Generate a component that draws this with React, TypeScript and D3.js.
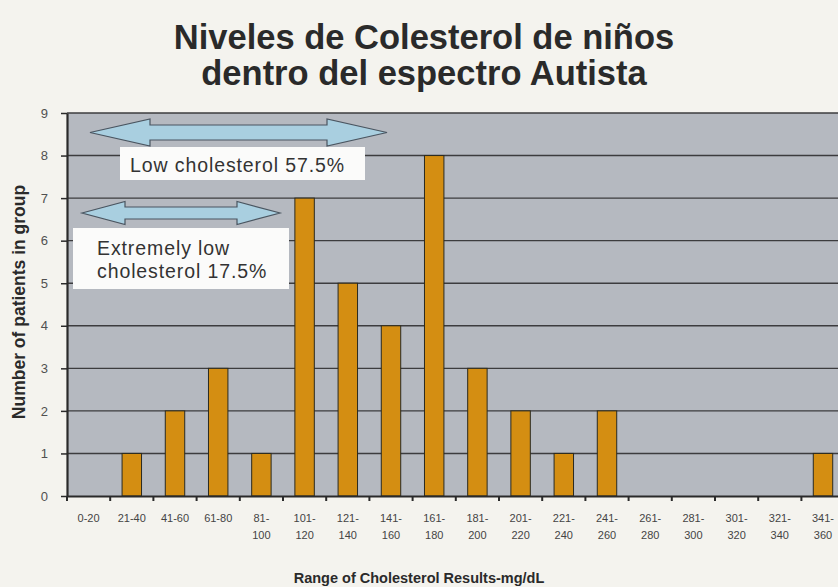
import React, { useEffect, useRef } from 'react';
import * as d3 from 'd3';

// cholesterol ranges (mg/dL) and number of patients per range
const ranges = [
  '0-20', '21-40', '41-60', '61-80', '81-100', '101-120', '121-140', '141-160', '161-180',
  '181-200', '201-220', '221-240', '241-260', '261-280', '281-300', '301-320', '321-340', '341-360',
];
const patients = [0, 1, 2, 3, 1, 7, 5, 4, 8, 3, 2, 1, 2, 0, 0, 0, 0, 1];
// ranges printed on one line; the rest break after the dash
const oneLineRanges = ['0-20', '21-40', '41-60', '61-80'];
const yTicks = [0, 1, 2, 3, 4, 5, 6, 7, 8, 9];

const titleLines = ['Niveles de Colesterol de niños', 'dentro del espectro Autista'];
const yTitle = 'Number of  patients in group';
const xTitle = 'Range of Cholesterol Results-mg/dL';
const lowLabel = ['Low cholesterol 57.5%'];
const extremeLabel = ['Extremely low', 'cholesterol 17.5%'];

const W = 838;
const H = 587;

const App: React.FC = () => {
  const svgRef = useRef<SVGSVGElement | null>(null);

  useEffect(() => {
    const svg = d3.select(svgRef.current);
    svg.selectAll('*').remove();

    const left = 67;
    const step = 43.2;
    const top = 113;
    const bottom = 496;

    const x = d3.scaleBand<string>()
      .domain(ranges)
      .range([left, left + step * ranges.length])
      .paddingInner(0.55)
      .paddingOuter(0.275);

    const y = d3.scaleLinear().domain([0, 9]).range([bottom, top]);

    svg.append('rect').attr('width', W).attr('height', H).attr('fill', '#f4f3ee');

    // plot background
    svg.append('rect')
      .attr('x', left).attr('y', y(9))
      .attr('width', W - left).attr('height', bottom - y(9))
      .attr('fill', '#b5b9c0');

    // grid
    svg.append('g')
      .selectAll('line')
      .data(yTicks.filter(d => d > 0))
      .enter().append('line')
      .attr('x1', left).attr('x2', W)
      .attr('y1', d => y(d)).attr('y2', d => y(d))
      .attr('stroke', '#3c3c3e')
      .attr('stroke-width', 1.4);

    // y axis
    const yAxis = svg.append('g')
      .attr('transform', `translate(${left},0)`)
      .call(d3.axisLeft(y).tickValues(yTicks).tickSize(6).tickPadding(13).tickSizeOuter(0));
    yAxis.select('.domain').attr('stroke', '#2a2a2a').attr('stroke-width', 2.2);
    yAxis.selectAll('.tick line').attr('stroke', '#2a2a2a').attr('stroke-width', 1.5);
    yAxis.selectAll('.tick text')
      .attr('font-family', 'Liberation Sans, Arial, sans-serif')
      .attr('font-size', 13)
      .attr('fill', '#505050');

    // annotation arrows
    const arrow = (x0: number, x1: number, cy: number, head: number, shaft: number, headLen: number) => {
      const pts: [number, number][] = [
        [x0, cy],
        [x0 + headLen, cy - head / 2],
        [x0 + headLen, cy - shaft / 2],
        [x1 - headLen, cy - shaft / 2],
        [x1 - headLen, cy - head / 2],
        [x1, cy],
        [x1 - headLen, cy + head / 2],
        [x1 - headLen, cy + shaft / 2],
        [x0 + headLen, cy + shaft / 2],
        [x0 + headLen, cy + head / 2],
      ];
      svg.append('path')
        .attr('d', d3.line()(pts) + 'Z')
        .attr('fill', '#a9cfe0')
        .attr('stroke', '#4a5560')
        .attr('stroke-width', 1.2);
    };
    arrow(90, 387, 132.5, 27, 15, 60);
    arrow(82, 280, 213, 23, 12, 43);

    // annotation boxes
    const box = (bx: number, by: number, bw: number, bh: number, lines: string[], tx: number, ty: number) => {
      svg.append('rect')
        .attr('x', bx).attr('y', by).attr('width', bw).attr('height', bh)
        .attr('fill', '#fbfbfa');
      svg.append('text')
        .attr('font-family', 'Liberation Sans, Arial, sans-serif')
        .attr('font-size', 19.5)
        .attr('letter-spacing', 0.9)
        .attr('fill', '#333333')
        .selectAll('tspan')
        .data(lines)
        .enter().append('tspan')
        .attr('x', tx)
        .attr('y', (_, i) => ty + i * 23)
        .text(d => d);
    };
    box(120, 147, 245, 33, lowLabel, 130, 172);
    box(73, 228, 216, 61, extremeLabel, 97, 255);

    // bars
    svg.append('g')
      .selectAll('rect')
      .data(patients)
      .enter().append('rect')
      .attr('x', (_, i) => x(ranges[i]) || 0)
      .attr('y', d => y(d))
      .attr('width', x.bandwidth())
      .attr('height', d => bottom - y(d))
      .attr('fill', '#d48e12')
      .attr('stroke', '#2a2a20')
      .attr('stroke-width', 1);

    // x axis
    const xAxis = svg.append('g')
      .attr('transform', `translate(0,${bottom})`)
      .call(d3.axisBottom(x).tickSize(0).tickFormat(() => ''));
    xAxis.select('.domain').attr('stroke', '#2a2a2a').attr('stroke-width', 2.2);
    xAxis.selectAll('.tick').remove();

    // category boundary ticks
    svg.append('g')
      .selectAll('line')
      .data(ranges)
      .enter().append('line')
      .attr('x1', d => (x(d) || 0) + x.bandwidth() / 2 - step / 2)
      .attr('x2', d => (x(d) || 0) + x.bandwidth() / 2 - step / 2)
      .attr('y1', bottom)
      .attr('y2', bottom + 5)
      .attr('stroke', '#2a2a2a')
      .attr('stroke-width', 2);

    // category labels
    const labels = svg.append('g')
      .attr('font-family', 'Liberation Sans, Arial, sans-serif')
      .attr('font-size', 11)
      .attr('fill', '#444444')
      .attr('text-anchor', 'middle');
    ranges.forEach(r => {
      const cx = (x(r) || 0) + x.bandwidth() / 2;
      const parts = oneLineRanges.includes(r) ? [r] : [r.split('-')[0] + '-', r.split('-')[1]];
      const t = labels.append('text');
      parts.forEach((p, i) => {
        t.append('tspan').attr('x', cx).attr('y', 522 + i * 17).text(p);
      });
    });

    // titles
    svg.append('text')
      .attr('text-anchor', 'middle')
      .attr('font-family', 'Liberation Sans, Arial, sans-serif')
      .attr('font-weight', 'bold')
      .attr('font-size', 34.5)
      .attr('fill', '#2a2a2a')
      .selectAll('tspan')
      .data(titleLines)
      .enter().append('tspan')
      .attr('x', 424)
      .attr('y', (_, i) => 49 + i * 36)
      .text(d => d);

    svg.append('text')
      .attr('transform', `translate(25,302) rotate(-90)`)
      .attr('text-anchor', 'middle')
      .attr('font-family', 'Liberation Sans, Arial, sans-serif')
      .attr('font-weight', 'bold')
      .attr('font-size', 17.5)
      .attr('fill', '#2a2a2a')
      .text(yTitle);

    svg.append('text')
      .attr('x', 419)
      .attr('y', 583)
      .attr('text-anchor', 'middle')
      .attr('font-family', 'Liberation Sans, Arial, sans-serif')
      .attr('font-weight', 'bold')
      .attr('font-size', 14.5)
      .attr('fill', '#2a2a2a')
      .text(xTitle);
  }, []);

  return (
    <svg
      ref={svgRef}
      width={W}
      height={H}
      style={{ position: 'absolute', left: 0, top: 0 }}
    />
  );
};

export default App;
